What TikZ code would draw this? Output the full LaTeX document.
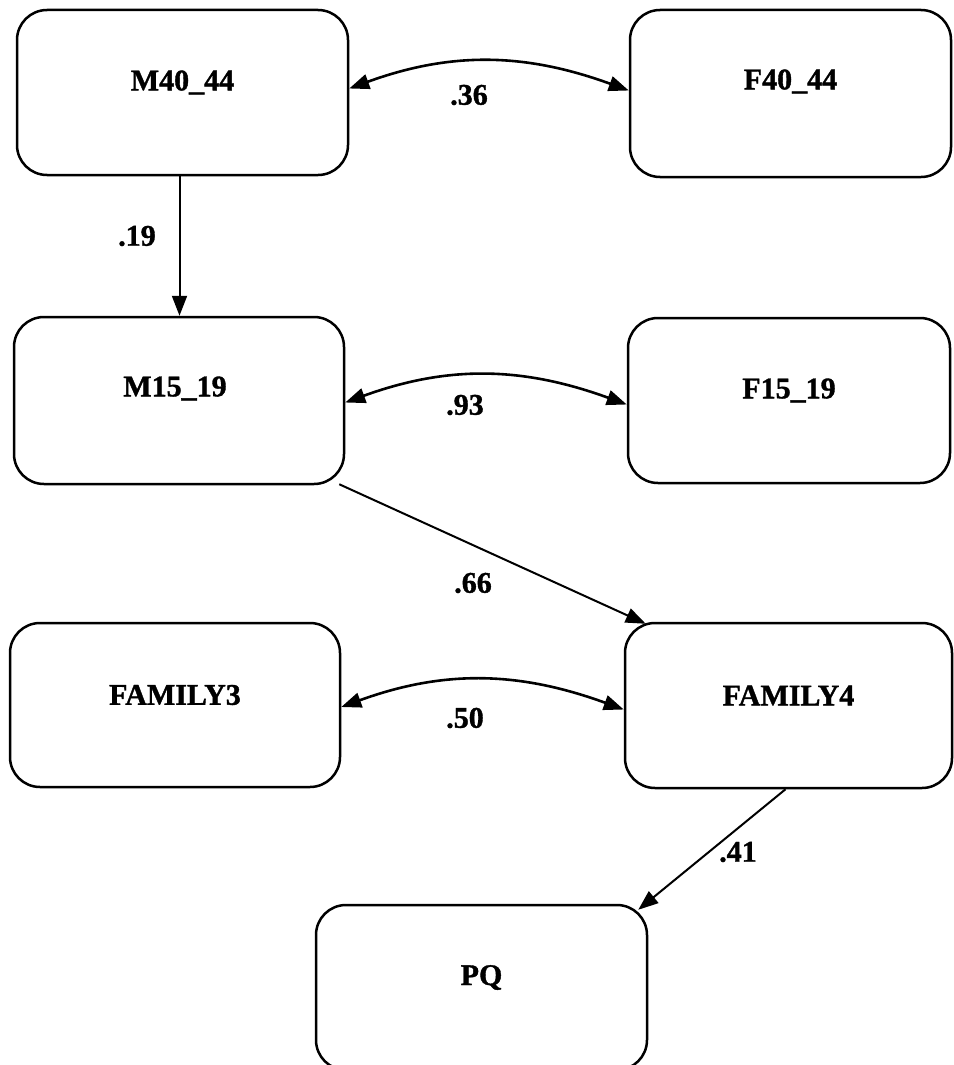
\documentclass[tikz,border=0pt]{standalone}
\usepackage{fontspec}
\setmainfont[BoldFeatures={FakeBold=1.2}]{Liberation Serif}
\usetikzlibrary{arrows.meta,calc}
\tikzset{
  box/.style={draw, line width=2.5pt, rounded corners=30pt, minimum width=#1, inner sep=0pt},
  boxtext/.style={font=\fontsize{30}{34}\selectfont\bfseries},
  lab/.style={font=\fontsize{30}{34}\selectfont\bfseries, inner sep=0pt},
  onearrow/.style={line width=2pt, -{Triangle[length=20pt,width=15pt]}},
  twoarrow/.style={line width=2.6pt, {Triangle[length=20pt,width=15pt]}-{Triangle[length=20pt,width=15pt]}}
}
\begin{document}
\begin{tikzpicture}[x=1pt,y=1pt]
\useasboundingbox (0,0) rectangle (953,-1065);
\node[box=331pt, minimum height=165pt, label={[boxtext,yshift=10pt]center:M40\_44}] (m40) at (182.5,-92.5) {};
\node[box=321pt, minimum height=167pt, label={[boxtext,yshift=12pt]center:F40\_44}] (f40) at (790.5,-93.5) {};
\node[box=330pt, minimum height=167pt, label={[boxtext,yshift=12pt,xshift=-4pt]center:M15\_19}] (m15) at (179,-400.5) {};
\node[box=322pt, minimum height=165pt, label={[boxtext,yshift=10pt]center:F15\_19}] (f15) at (789,-400.5) {};
\node[box=330pt, minimum height=164pt, label={[boxtext,yshift=10pt]center:FAMILY3}] (fam3) at (175,-705) {};
\node[box=327pt, minimum height=165pt, label={[boxtext,yshift=10pt]center:FAMILY4}] (fam4) at (788.5,-705.5) {};
\node[box=331pt, minimum height=165pt, label={[boxtext,yshift=10pt]center:PQ}] (pq) at (481.5,-987.5) {};

\draw[onearrow] ($(m40.south)+(-3,0)$) -- ($(m40.south |- m15.north)+(-3,0)$);
\draw[twoarrow] ($(m40.east)+(0,4)$) to[out=20,in=160] ($(f40.west)+(0,3)$);
\draw[twoarrow] ($(m15.east)+(0,-2)$) to[out=20,in=160] ($(f15.west)+(0,-4)$);
\draw[twoarrow] ($(fam3.east)+(0,-2)$) to[out=20,in=160] ($(fam4.west)+(0,-4)$);
\draw[onearrow] ($(m15.south east)+(-6,1)$) -- ($(fam4.north west)+(22,-2)$);
\draw[onearrow] ($(fam4.south)+(-3,0)$) -- ($(pq.north east)+(-10,-6)$);

\node[lab] (l19) at (137,-236) {.19};
\node[lab] (l36) at (469,-95) {.36};
\node[lab] (l93) at (465,-405) {.93};
\node[lab] (l66) at (473,-583) {.66};
\node[lab] (l50) at (465,-718) {.50};
\node[lab] (l41) at (738,-852) {.41};
\end{tikzpicture}
\end{document}
